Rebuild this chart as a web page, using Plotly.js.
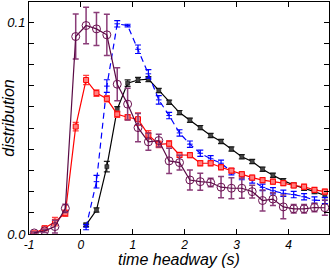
<!DOCTYPE html>
<html><head><meta charset="utf-8">
<script src="https://cdn.plot.ly/plotly-3.0.1.min.js"></script>
<style>html,body{margin:0;padding:0;background:#fff}#c{width:332px;height:268px}</style>
</head><body><div id="c"></div>
<script>
const xPurple = [-0.9,-0.7,-0.5,-0.3,-0.1,0.1,0.3,0.5,0.7,0.9,1.1,1.3,1.5,1.7,1.9,2.1,2.3,2.5,2.7,2.9,3.1,3.3,3.5,3.7,3.9,4.1,4.3,4.5,4.7];
const yPurple = [0.0005,0.0015,0.0035,0.0121,0.0932,0.0984,0.0968,0.094,0.0707,0.0613,0.0502,0.0435,0.0441,0.0345,0.0337,0.0255,0.0247,0.0243,0.0221,0.0216,0.0216,0.020,0.0158,0.0165,0.0128,0.0119,0.0119,0.0125,0.0124];
const ePurple = [0.0005,0.0008,0.003,0.002,0.0106,0.0086,0.0078,0.0097,0.0078,0.0075,0.0067,0.004,0.003,0.006,0.0035,0.0047,0.004,0.002,0.005,0.005,0.0047,0.003,0.005,0.003,0.0056,0.002,0.002,0.002,0.0036];

const xRed = [-0.9,-0.7,-0.5,-0.3,-0.1,0.1,0.3,0.5,0.7,0.9,1.1,1.3,1.5,1.7,1.9,2.1,2.3,2.5,2.7,2.9,3.1,3.3,3.5,3.7,3.9,4.1,4.3,4.5,4.7];
const yRed = [0.0003,0.0027,0.0058,0.0098,0.0507,0.0727,0.0665,0.0638,0.0565,0.0551,0.0542,0.0468,0.0423,0.0426,0.0373,0.0372,0.0334,0.0334,0.0315,0.0299,0.0282,0.0266,0.0254,0.0247,0.024,0.0229,0.0223,0.0208,0.020];
const eRed = [0.0005,0.001,0.002,0.0015,0.002,0.0022,0.0015,0.0015,0.0015,0.0012,0.003,0.002,0.0015,0.0015,0.0012,0.0012,0.0012,0.0012,0.0012,0.0012,0.0012,0.0012,0.0012,0.0012,0.0012,0.0012,0.0012,0.0012,0.0012];

const xBlue = [0.1,0.3,0.5,0.7,0.9,1.1,1.3,1.5,1.7,1.9,2.1,2.3,2.5,2.7,2.9,3.1,3.3,3.5,3.7,3.9,4.1,4.3,4.5,4.7];
const yBlue = [0.0032,0.0247,0.0698,0.0992,0.0984,0.0872,0.0756,0.0633,0.0559,0.0477,0.0424,0.0381,0.0355,0.0334,0.0294,0.0271,0.0255,0.022,0.0204,0.0192,0.0186,0.0176,0.016,0.0158];
const eBlue = [0.0012,0.003,0.003,0.0015,0.0006,0.002,0.002,0.002,0.0015,0.0015,0.0015,0.0015,0.0015,0.0015,0.0015,0.0015,0.0015,0.0015,0.0015,0.0015,0.0015,0.0015,0.0015,0.0015];

const xBlack = [0.1,0.3,0.5,0.7,0.9,1.1,1.3,1.5,1.7,1.9,2.1,2.3,2.5,2.7,2.9,3.1,3.3,3.5,3.7,3.9,4.1,4.3,4.5,4.7];
const yBlack = [0.0043,0.0113,0.0318,0.0589,0.0712,0.0727,0.0731,0.0677,0.0622,0.0573,0.0537,0.0502,0.0465,0.0437,0.0401,0.0365,0.0342,0.0306,0.0277,0.0252,0.0231,0.0216,0.020,0.0182];
const eBlack = [0.0008,0.001,0.0025,0.0012,0.0015,0.0012,0.0012,0.001,0.001,0.001,0.001,0.001,0.001,0.001,0.001,0.001,0.001,0.001,0.001,0.001,0.001,0.001,0.001,0.001];

const xTickVals = [-1,0,1,2,3,4];
const xTickText = ['-1','0','1','2','3','4'];
const yTickVals = [0,0.01,0.02,0.03,0.04,0.05,0.06,0.07,0.08,0.09,0.1];
const yTickText = ['0.0','','','','','','','','','','0.1'];

const FONT = 'Liberation Sans, Arial, sans-serif';

const traces = [
  {x:xBlack,y:yBlack,type:'scatter',mode:'lines+markers',
   line:{color:'#000000',width:1.2},
   marker:{symbol:'square',size:4,color:'#444444',line:{color:'#000',width:0.5}},
   error_y:{type:'data',array:eBlack,visible:true,color:'#222222',thickness:1.2,width:3}},
  {x:xBlue,y:yBlue,type:'scatter',mode:'lines+markers',
   line:{color:'#0000ff',width:1.2,dash:'6px,4px'},
   marker:{symbol:'line-ew',size:4,color:'#0000ff',line:{color:'#0000ff',width:1}},
   error_y:{type:'data',array:eBlue,visible:true,color:'#0000ff',thickness:1.2,width:3}},
  {x:xRed,y:yRed,type:'scatter',mode:'lines+markers',
   line:{color:'#ff0000',width:1.2},
   marker:{symbol:'square',size:5,color:'#ff8080',line:{color:'#ff0000',width:1}},
   error_y:{type:'data',array:eRed,visible:true,color:'#ff4040',thickness:1.2,width:3}},
  {x:xPurple,y:yPurple,type:'scatter',mode:'lines+markers',
   line:{color:'#5a0a45',width:1.2},
   marker:{symbol:'circle-open',size:8,color:'#6a1050',line:{color:'#6a1050',width:1}},
   error_y:{type:'data',array:ePurple,visible:true,color:'#8a3c78',thickness:1.5,width:3}}
];

const layout = {
  width:332,height:268,
  margin:{l:29,r:3,t:2,b:34},
  paper_bgcolor:'#fff',plot_bgcolor:'#fff',
  showlegend:false,
  font:{family:FONT,color:'#000'},
  xaxis:{range:[-1,4.78],tickmode:'array',tickvals:xTickVals,ticktext:xTickText,
    ticks:'inside',ticklen:5,tickcolor:'#000',tickwidth:1,
    showline:true,linecolor:'#000',linewidth:1,mirror:'allticks',
    showgrid:false,zeroline:false,
    tickfont:{size:12,style:'italic',family:FONT},
    title:{text:'time headway (s)',font:{size:16,style:'italic',family:FONT},standoff:1}},
  yaxis:{range:[0,0.1095],tickmode:'array',tickvals:yTickVals,ticktext:yTickText,
    ticks:'inside',ticklen:5,tickcolor:'#000',tickwidth:1,
    showline:true,linecolor:'#000',linewidth:1,mirror:'allticks',
    showgrid:false,zeroline:false,
    tickfont:{size:13,style:'italic',family:FONT},
    title:{text:'distribution',font:{size:16,style:'italic',family:FONT},standoff:4}}
};

Plotly.newPlot('c',traces,layout,{displayModeBar:false,staticPlot:true});
</script>
</body></html>
